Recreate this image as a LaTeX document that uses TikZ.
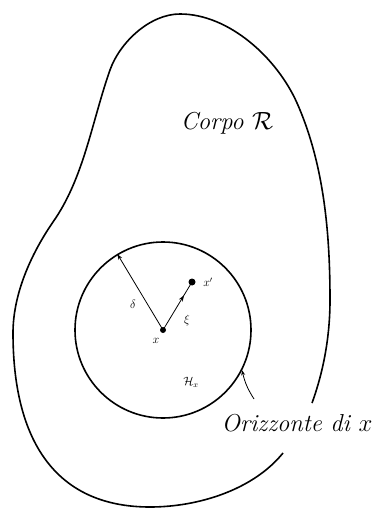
\documentclass[tikz,border=0pt]{standalone}
\usetikzlibrary{arrows.meta,decorations.markings}
\begin{document}
\begin{tikzpicture}[x=1pt,y=-1pt,
  thick line/.style={line width=1.6pt},
  thin line/.style={line width=0.8pt},
  dotnode/.style={circle,fill,inner sep=0pt,minimum size=6pt},
  biglabel/.style={font=\fontsize{24.5}{28}\selectfont\itshape,inner sep=0pt},
  smalllabel/.style={font=\fontsize{12}{14}\selectfont,inner sep=0pt}]
\useasboundingbox (0,0) rectangle (374,510);
% outer body
\draw[thick line] (312,403) .. controls (324,370) and (330,335) .. (330,300)
  .. controls (330,233) and (324,164) .. (297,103)
  .. controls (277,58) and (229,14) .. (180,14)
  .. controls (150,14) and (120,42) .. (110,70)
  .. controls (92,121) and (84,178) .. (53,222)
  .. controls (31,254) and (13,294) .. (13,333)
  .. controls (13,440) and (55,507) .. (150,507)
  .. controls (198,507) and (253,490) .. (283,453);
% horizon
\node[circle,draw,thick line,minimum size=176pt,inner sep=0pt] (hor) at (163,330) {};
\node[dotnode] (x) at (163,330) {};
\node[dotnode,minimum size=7pt] (xp) at (192,282) {};
\draw[thin line,-{Stealth[length=6pt,width=4pt]}] (x.center) -- (hor.121);
\draw[thin line,postaction={decorate},decoration={markings,mark=at position 0.72 with {\arrow{Stealth[length=6pt,width=4.5pt]}}}] (x.center) -- (xp.center);
\node[smalllabel] (lx) at (156,341) {$x$};
\node[smalllabel] (lxp) at (208,282) {$x'$};
\node[smalllabel] (ld) at (133,304) {$\delta$};
\node[smalllabel] (lxi) at (187,320) {$\xi$};
\node[smalllabel] (lH) at (191,382) {$\mathcal{H}_x$};
\node[biglabel] (corpo) at (227,123) {Corpo $\mathcal{R}$};
\node[biglabel] (orizz) at (297,423) {Orizzonte di $x$};
\coordinate (ptail) at (254,399);
\draw[thin line,-{Stealth[length=5pt,width=4pt]}] (ptail) to[bend left=10] (hor.-27);
\end{tikzpicture}
\end{document}
